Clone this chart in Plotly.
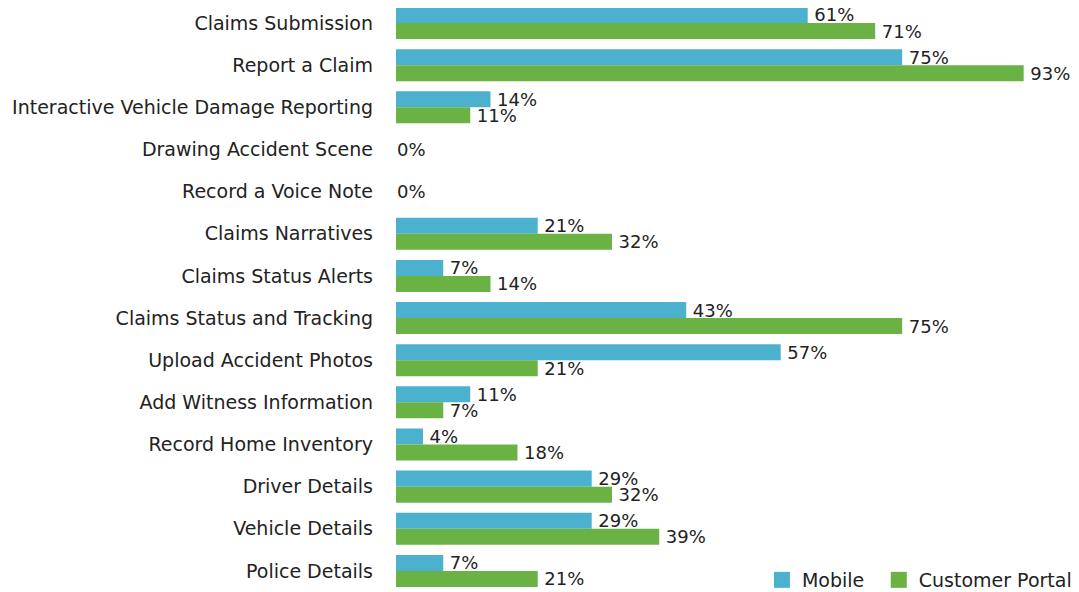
import plotly.graph_objects as go

categories = [
    "Claims Submission", "Report a Claim", "Interactive Vehicle Damage Reporting",
    "Drawing Accident Scene", "Record a Voice Note", "Claims Narratives",
    "Claims Status Alerts", "Claims Status and Tracking", "Upload Accident Photos",
    "Add Witness Information", "Record Home Inventory", "Driver Details",
    "Vehicle Details", "Police Details",
]
mobile = [61, 75, 14, 0, 0, 21, 7, 43, 57, 11, 4, 29, 29, 7]
portal = [71, 93, 11, 0, 0, 32, 14, 75, 21, 7, 18, 32, 39, 21]
series_names = ["Mobile", "Customer Portal"]

BLUE = "#4BB1CF"
GREEN = "#6BB244"
FONT = "DejaVu Sans"
TXT = "#222222"
FS = 18


def labels(vals):
    return ["\u2009" + f"{v}%" if v > 0 else "" for v in vals]


fig = go.Figure()
for i, (name, vals, col) in enumerate(zip(series_names, [mobile, portal], [BLUE, GREEN])):
    fig.add_trace(go.Bar(y=categories, x=vals, orientation="h", name=name,
                         marker_color=col, marker_line_width=0, showlegend=False,
                         text=labels(vals), textposition="outside",
                         constraintext="none", cliponaxis=False,
                         textfont=dict(size=FS, color=TXT, family=FONT)))
    # legend entry with a larger square swatch
    fig.add_trace(go.Scatter(x=[None], y=[None], mode="markers",
                             name=name + ("\u2002" if i == 0 else ""),
                             marker=dict(symbol="square", size=18, color=col),
                             showlegend=True))

for c, m, p in zip(categories, mobile, portal):
    if m == 0 and p == 0:
        fig.add_annotation(x=0, y=c, text="0%", showarrow=False, xanchor="left",
                           xshift=-1, font=dict(size=FS, color=TXT, family=FONT))

# page has an 8px body margin, so the figure is drawn 8px smaller
fig.update_layout(
    width=1071, height=584,
    margin=dict(l=388, r=0, t=0, b=0, autoexpand=False),
    paper_bgcolor="white", plot_bgcolor="white",
    barmode="group", bargap=0.24, bargroupgap=0,
    font=dict(family=FONT, color=TXT, size=FS),
    showlegend=True,
    legend=dict(orientation="h", x=0.997, xanchor="right", y=-0.012, yanchor="bottom",
                font=dict(size=19, color=TXT, family=FONT), bgcolor="rgba(0,0,0,0)",
                itemwidth=30, tracegroupgap=0),
)
fig.update_xaxes(range=[0, 101.2], visible=False, showgrid=False, zeroline=False)
fig.update_yaxes(range=[13.5, -0.356], showgrid=False, zeroline=False, showline=False,
                 ticks="", ticklabelstandoff=22, tickfont=dict(size=19, color=TXT, family=FONT))

fig.write_html("out.html")
